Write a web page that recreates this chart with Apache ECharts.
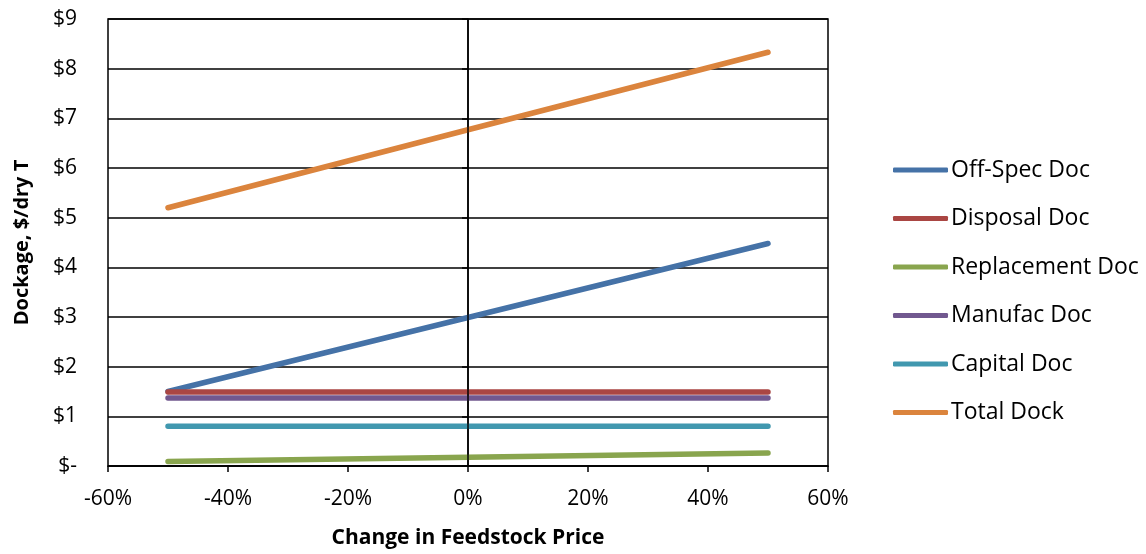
<!DOCTYPE html>
<html><head><meta charset="utf-8">
<script src="https://cdn.jsdelivr.net/npm/echarts@6/dist/echarts.min.js"></script>
<style>html,body{margin:0;padding:0;background:#fff}#c{width:1146px;height:554px}</style>
</head><body><div id="c"></div>
<script>
const priceChange = [-50, 0, 50];
const seriesNames = ['Off-Spec Doc','Disposal Doc','Replacement Doc','Manufac Doc','Capital Doc','Total Dock'];
const offSpec = [1.50, 2.99, 4.48];
const disposal = [1.49, 1.49, 1.49];
const replacement = [0.09, 0.175, 0.26];
const manufac = [1.37, 1.37, 1.37];
const capital = [0.80, 0.80, 0.80];
const total = [5.20, 6.77, 8.33];
const colors = ['#4572A7','#AA4643','#89A54E','#71588F','#4198AF','#DB843D'];
const yTicks = [0,1,2,3,4,5,6,7,8,9];

const values = [offSpec, disposal, replacement, manufac, capital, total];
const font = '"Open Sans", "Liberation Sans", sans-serif';
const chart = echarts.init(document.getElementById('c'));
const series = values.map((v,i)=>({
  name: seriesNames[i], type:'line', symbol:'none', smooth:false,
  data: priceChange.map((x,j)=>[x, v[j]]),
  lineStyle:{width:5.5, color:colors[i], cap:'round'},
  itemStyle:{color:colors[i]},
  z: 3
}));
series.push({
  type:'line', data:[], silent:true,
  markLine:{silent:true, symbol:['none','none'], label:{show:false},
    lineStyle:{color:'#000', width:1.5, type:'solid'}, data:[{xAxis:0}]},
  z:1
});
chart.setOption({
  animation:false,
  color: colors,
  grid:{left:108, right:318, top:19, bottom:87, show:true, borderColor:'#000', borderWidth:1.5},
  legend:{
    orient:'vertical', left:893, top:158, padding:0, itemWidth:55, itemHeight:5, icon:'roundRect',
    itemGap:24.5, data: seriesNames,
    textStyle:{fontFamily:font, fontSize:23, lineHeight:24, color:'#000', padding:[0,0,0,-2]}
  },
  xAxis:{
    type:'value', min:-60, max:60, interval:20,
    axisLine:{show:true, onZero:false, lineStyle:{color:'#000', width:1.5}},
    axisTick:{show:true, length:6, lineStyle:{color:'#000', width:1.5}},
    splitLine:{show:false},
    axisLabel:{fontFamily:font, fontSize:21, color:'#000', margin:23, formatter: v=>v+'%'},
    name:'Change in Feedstock Price', nameLocation:'middle', nameGap:62,
    nameTextStyle:{fontFamily:font, fontSize:21, fontWeight:'bold', color:'#000'}
  },
  yAxis:{
    type:'value', min:0, max:9, interval:1,
    axisLine:{show:true, lineStyle:{color:'#000', width:1.5}},
    axisTick:{show:true, length:6, lineStyle:{color:'#000', width:1.5}},
    splitLine:{show:true, lineStyle:{color:'#000', width:1.5}},
    axisLabel:{fontFamily:font, fontSize:21, color:'#000', margin:31,
      formatter: v=> v===0 ? '$-' : '$'+v},
    name:'Dockage, $/dry T', nameLocation:'middle', nameGap:76, nameRotate:90,
    nameTextStyle:{fontFamily:font, fontSize:20, fontWeight:'bold', color:'#000'}
  },
  series: series
});
</script></body></html>
